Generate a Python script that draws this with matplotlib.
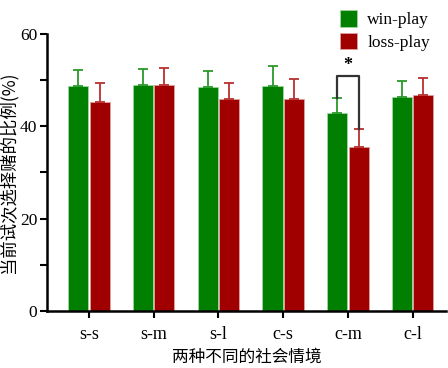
import matplotlib
matplotlib.use("Agg")
import matplotlib.pyplot as plt
import numpy as np

# 数据
categories = ["s-s", "s-m", "s-l", "c-s", "c-m", "c-l"]
win_play = [48.7, 49.0, 48.4, 48.7, 42.8, 46.3]
win_err = [3.5, 3.4, 3.6, 4.4, 3.4, 3.6]
loss_play = [45.3, 49.0, 46.0, 45.9, 35.4, 46.8]
loss_err = [4.1, 3.6, 3.4, 4.3, 3.9, 3.6]

green = "#007f00"
red = "#a00000"
serif = ["Liberation Serif", "DejaVu Serif"]
cjk = ["Noto Sans CJK SC", "DejaVu Sans"]

fig = plt.figure(figsize=(4.48, 3.68), dpi=100)
ax = fig.add_axes([0.105, 0.155, 0.891, 0.753])

x = np.arange(len(categories))
w = 0.31
off = 0.165
ax.bar(x - off, win_play, w, color=green, edgecolor="#9fd89f", linewidth=0.6,
       yerr=[np.zeros(len(win_err)), win_err], error_kw=dict(ecolor="#2a9a2a", elinewidth=1.3, capsize=3.7, capthick=1.3),
       label="win-play", zorder=2)
ax.bar(x + off, loss_play, w, color=red, edgecolor="#e0a0a0", linewidth=0.6,
       yerr=[np.zeros(len(loss_err)), loss_err], error_kw=dict(ecolor="#b83030", elinewidth=1.3, capsize=3.7, capthick=1.3),
       label="loss-play", zorder=2)

# 显著性标记
i = categories.index("c-m")
y1 = win_play[i] + win_err[i]
y2 = loss_play[i] + loss_err[i]
top = 50.8
ax.plot([i - off, i - off, i + off, i + off], [y1, top, top, y2], color="#333333", lw=1.6, zorder=3)
ax.text(i, top + 0.6, "*", ha="center", va="bottom", fontsize=13, fontweight="bold", family=serif)

ax.set_xlim(-0.65, 5.52)
ax.set_ylim(0, 60)
ax.set_yticks([0, 20, 40, 60])
ax.set_yticks([10, 30, 50], minor=True)
ax.set_xticks(x)
ax.set_xticklabels(categories, family=serif, fontsize=13)
for lab in ax.get_yticklabels():
    lab.set_family(serif)
    lab.set_fontsize(12.5)
ax.tick_params(axis="both", width=1.5, length=5, pad=6)
ax.tick_params(axis="y", which="minor", width=1.5, length=5)
ax.tick_params(axis="y", pad=2)

for s in ["top", "right"]:
    ax.spines[s].set_visible(False)
for s in ["left", "bottom"]:
    ax.spines[s].set_linewidth(1.8)

ax.set_ylabel("当前试次选择赌的比例(%)", family=cjk, fontsize=12.5, labelpad=2)
ax.set_xlabel("两种不同的社会情境", family=cjk, fontsize=12, labelpad=4)

leg = fig.legend(loc="upper right", bbox_to_anchor=(0.995, 1.015), frameon=False,
                 prop={"family": serif, "size": 12.5}, handlelength=1.0, handleheight=1.1,
                 handletextpad=0.6, labelspacing=0.25)

plt.savefig("out.png", dpi=100)
